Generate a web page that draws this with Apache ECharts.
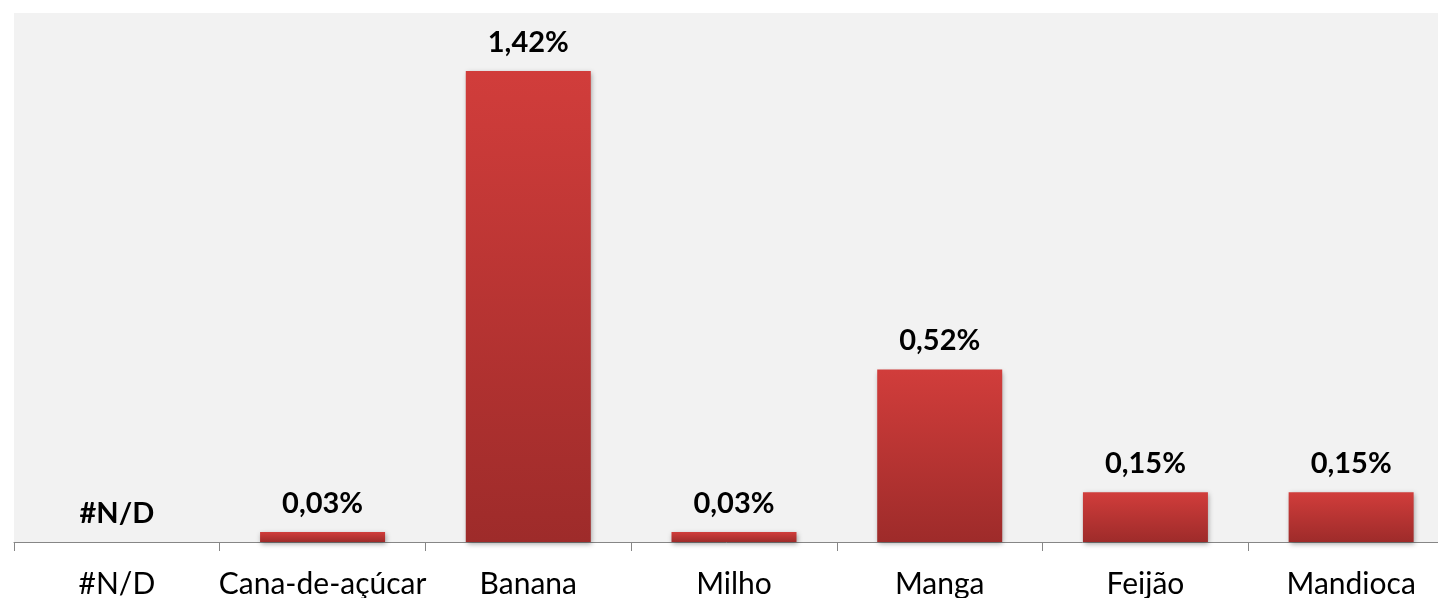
<!DOCTYPE html>
<html><head><meta charset="utf-8">
<script src="https://cdn.jsdelivr.net/npm/echarts@6/dist/echarts.min.js"></script>
<style>html,body{margin:0;padding:0;background:#fff}#c{width:1438px;height:598px}</style>
</head><body><div id="c"></div>
<script>
const categories = ['#N/D', 'Cana-de-açúcar', 'Banana', 'Milho', 'Manga', 'Feijão', 'Mandioca'];
const values = [null, 0.03, 1.42, 0.03, 0.52, 0.15, 0.15];
const missingLabel = '#N/D';

const FONT = 'Lato';
const chart = echarts.init(document.getElementById('c'), null, {renderer: 'canvas'});
const barColor = new echarts.graphic.LinearGradient(0, 0, 0, 1, [
  {offset: 0, color: '#d13d3b'},
  {offset: 1, color: '#9e2b2a'}
]);
const data = values.map(v => v === null
  ? {value: 0, label: {formatter: missingLabel}}
  : {value: v});
chart.setOption({
  animation: false,
  grid: {left: 14, top: 13, width: 1440, height: 529, backgroundColor: '#f2f2f2', show: true, borderWidth: 0,
         containLabel: false, outerBoundsMode: 'none'},
  xAxis: {
    type: 'category', data: categories,
    axisLine: {lineStyle: {color: '#868686', width: 1}},
    axisTick: {show: true, length: 9, lineStyle: {color: '#868686'}},
    axisLabel: {color: '#000', fontFamily: FONT, fontSize: 30, margin: 27, interval: 0, hideOverlap: false}
  },
  yAxis: {type: 'value', min: 0, max: 1.595, show: false, splitLine: {show: false}},
  series: [{
    type: 'bar', data: data, barWidth: 125,
    itemStyle: {color: barColor, shadowColor: 'rgba(0,0,0,0.35)', shadowBlur: 5, shadowOffsetX: 1, shadowOffsetY: 2},
    label: {
      show: true, position: 'top', distance: 14,
      color: '#000', fontFamily: FONT, fontWeight: 'bold', fontSize: 29,
      formatter: p => p.value.toFixed(2).replace('.', ',') + '%'
    }
  }]
});
</script></body></html>
